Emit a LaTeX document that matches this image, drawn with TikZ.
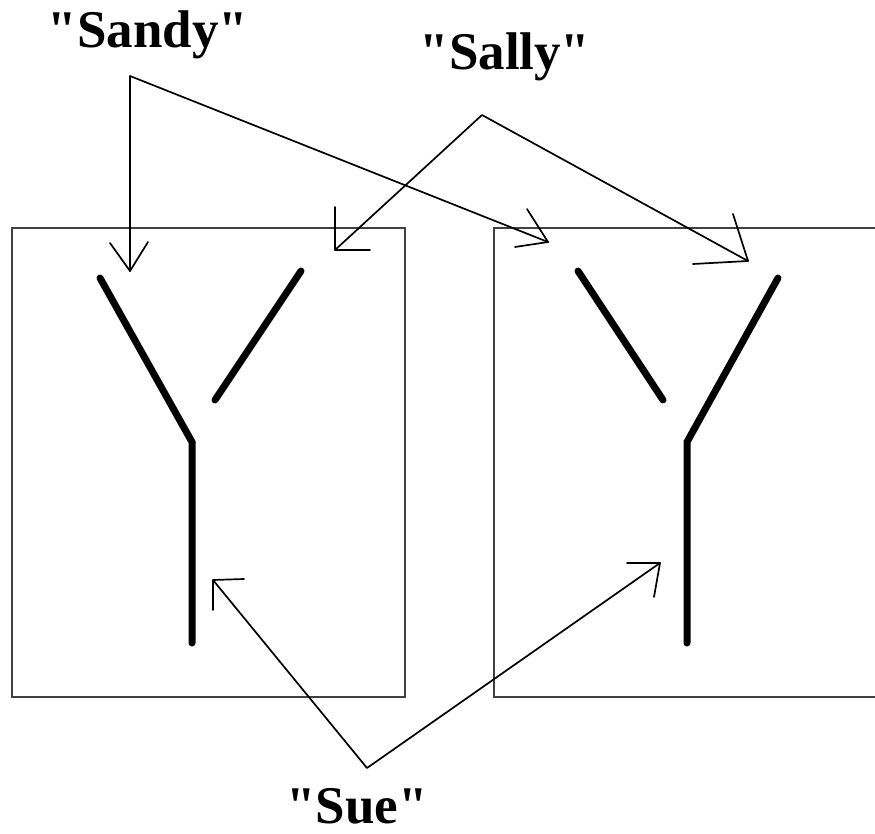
\documentclass[tikz,border=0pt]{standalone}
\usepackage{fontspec}
\setmainfont{Liberation Serif}[Ligatures=TeXOff]
\begin{document}
\begin{tikzpicture}[x=1pt,y=-1pt,
  label/.style={font=\fontsize{53}{60}\selectfont\bfseries, inner sep=0pt, anchor=base},
  frame/.style={draw=black!75, line width=1.3pt},
  ystroke/.style={line width=7pt, line cap=round, line join=miter},
  pointer/.style={line width=1.7pt, line cap=round, line join=round}]
\useasboundingbox[fill=white] (0,0) rectangle (875,834);
% panels
\draw[frame] (12,228) rectangle (405,697);
\draw[frame] (494,228) rectangle (880,697);
% left Y
\draw[ystroke] (100,278) -- (192,442) -- (192,643);
\draw[ystroke] (301,271) -- (215,400);
% right Y
\draw[ystroke] (578,271) -- (663,400);
\draw[ystroke] (778,278) -- (687,442) -- (687,643);
% labels
\node[label] (sandy) at (148,48) {"Sandy"};
\node[label] (sally) at (505,70) {"Sally"};
\node[label, text depth=0pt] (sue) at (357,823) {"Sue"};
% apex points
\coordinate (sandyA) at (130,76);
\coordinate (sallyA) at (482,115);
\coordinate (sueA) at (367,768);
% tips
\coordinate (t1) at (130,271);
\coordinate (t2) at (548,242);
\coordinate (t3) at (335,250);
\coordinate (t4) at (748,261);
\coordinate (t5) at (213,580);
\coordinate (t6) at (660,563);
% connectors
\draw[pointer] (t1) -- (sandyA) -- (t2);
\draw[pointer] (t3) -- (sallyA) -- (t4);
\draw[pointer] (t5) -- (sueA) -- (t6);
% hand-drawn open heads
\draw[pointer] (110,243) -- (t1) -- (148,242);
\draw[pointer] (527,209) -- (t2) -- (515,247);
\draw[pointer] (335,207) -- (t3) -- (370,250);
\draw[pointer] (733,214) -- (t4) -- (693,264);
\draw[pointer] (213,610) -- (t5) -- (244,579);
\draw[pointer] (627,563) -- (t6) -- (654,597);
\end{tikzpicture}
\end{document}
